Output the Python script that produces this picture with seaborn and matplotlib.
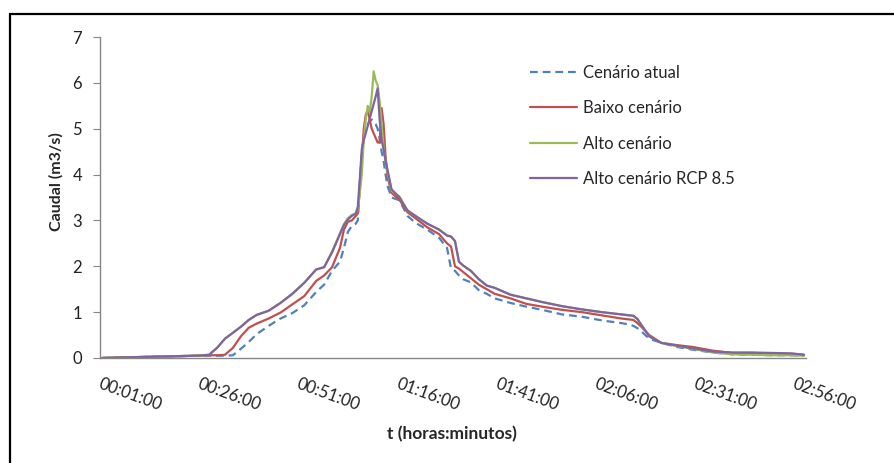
import matplotlib
matplotlib.use("Agg")
import matplotlib.pyplot as plt
from matplotlib.patches import Rectangle
import numpy as np
import pandas as pd
import seaborn as sns

# Time in minutes since 00:00 (finer steps around the flood peak)
minutes = [1, 5, 10, 15, 20, 25, 28, 30, 32, 34, 36, 38, 40, 43, 46, 49, 52, 55, 57, 59,
           61, 62, 63, 64, 65, 65.5, 66, 66.5, 67, 67.5, 68, 68.5, 69, 69.5, 70, 70.5,
           71, 71.5, 72, 72.5, 73, 74, 76, 78, 80, 83, 86, 88, 89, 90, 91, 92, 94, 96,
           98, 100, 104, 108, 112, 117, 122, 127, 132, 134, 135, 136, 137, 139, 142,
           146, 150, 155, 160, 165, 170, 175, 178]

# Discharge (m3/s) per scenario
q_atual = [0.0, 0.01, 0.02, 0.03, 0.04, 0.05, 0.05, 0.05, 0.05, 0.06, 0.2, 0.35, 0.52, 0.7,
           0.86, 0.98, 1.15, 1.44, 1.6, 1.9, 2.1, 2.4, 2.75, 2.88, 2.93, 3.0, 3.8, 4.5,
           4.8, 5.0, 5.1, 5.15, 5.2, 5.15, 5.1, 5.0, 4.8, 4.5, 4.3, 4.0, 3.75, 3.5, 3.44,
           3.1, 2.95, 2.8, 2.62, 2.4, 1.95, 1.9, 1.8, 1.72, 1.65, 1.48, 1.4, 1.3, 1.2,
           1.12, 1.05, 0.95, 0.9, 0.82, 0.76, 0.73, 0.7, 0.65, 0.58, 0.42, 0.33, 0.24,
           0.18, 0.12, 0.08, 0.07, 0.06, 0.06, 0.05]
q_baixo = [0.0, 0.01, 0.02, 0.03, 0.04, 0.05, 0.06, 0.06, 0.07, 0.22, 0.47, 0.66, 0.75, 0.86,
           0.99, 1.17, 1.35, 1.68, 1.8, 1.98, 2.4, 2.8, 2.97, 3.0, 3.1, 3.15, 3.7, 4.3,
           5.0, 5.3, 5.4, 5.2, 5.0, 4.9, 4.8, 4.7, 4.7, 5.45, 5.1, 4.4, 3.95, 3.6, 3.45,
           3.18, 3.05, 2.85, 2.7, 2.5, 2.43, 2.0, 1.95, 1.88, 1.74, 1.6, 1.5, 1.4, 1.3,
           1.18, 1.12, 1.05, 1.0, 0.93, 0.86, 0.84, 0.83, 0.76, 0.68, 0.5, 0.33, 0.28,
           0.24, 0.16, 0.11, 0.11, 0.1, 0.09, 0.07]
q_alto = [0.0, 0.01, 0.02, 0.03, 0.04, 0.05, 0.07, 0.22, 0.42, 0.55, 0.68, 0.83, 0.94, 1.03,
          1.2, 1.4, 1.64, 1.93, 1.98, 2.32, 2.72, 2.92, 3.05, 3.12, 3.15, 3.25, 3.6, 4.0,
          4.75, 5.2, 5.5, 5.35, 5.7, 6.25, 6.05, 5.95, 5.6, 5.1, 4.6, 4.3, 4.05, 3.65,
          3.52, 3.22, 3.1, 2.93, 2.8, 2.67, 2.65, 2.55, 2.1, 2.02, 1.9, 1.72, 1.58, 1.53,
          1.38, 1.3, 1.22, 1.13, 1.06, 1.0, 0.95, 0.93, 0.92, 0.85, 0.72, 0.47, 0.33,
          0.26, 0.2, 0.12, 0.08, 0.07, 0.06, 0.06, 0.05]
q_rcp85 = [0.0, 0.01, 0.02, 0.03, 0.04, 0.05, 0.07, 0.22, 0.42, 0.55, 0.68, 0.83, 0.94, 1.03,
           1.2, 1.4, 1.64, 1.93, 1.98, 2.3, 2.7, 2.9, 3.02, 3.1, 3.15, 3.3, 3.9, 4.55,
           4.75, 4.9, 5.06, 5.22, 5.38, 5.54, 5.7, 5.88, 5.2, 4.75, 4.55, 4.3, 4.1, 3.68,
           3.5, 3.22, 3.1, 2.93, 2.8, 2.67, 2.65, 2.55, 2.1, 2.02, 1.9, 1.72, 1.58, 1.53,
           1.38, 1.3, 1.22, 1.13, 1.06, 1.0, 0.95, 0.93, 0.92, 0.85, 0.72, 0.47, 0.33,
           0.27, 0.21, 0.14, 0.12, 0.12, 0.11, 0.1, 0.07]

scenarios = ["Cenário atual", "Baixo cenário", "Alto cenário", "Alto cenário RCP 8.5"]
colors = ["#4F81BD", "#C0504D", "#9BBB59", "#8064A2"]
tick_minutes = [1, 26, 51, 76, 101, 126, 151, 176]
tick_labels = ["00:01:00", "00:26:00", "00:51:00", "01:16:00",
               "01:41:00", "02:06:00", "02:31:00", "02:56:00"]

frames = []
for name, q in zip(scenarios, [q_atual, q_baixo, q_alto, q_rcp85]):
    frames.append(pd.DataFrame({"t": minutes, "Caudal": q, "Cenário": name}))
df = pd.concat(frames, ignore_index=True)

sns.set_style("white")
plt.rcParams["font.family"] = ["Lato", "DejaVu Sans"]

fig = plt.figure(figsize=(8.94, 4.63), dpi=100)
ax = fig.add_axes([100 / 894, 1 - 358 / 463, 706 / 894, 321 / 463])

sns.lineplot(data=df, x="t", y="Caudal", hue="Cenário", style="Cenário",
             hue_order=scenarios, style_order=scenarios,
             palette=dict(zip(scenarios, colors)),
             dashes={scenarios[0]: (3.5, 2.2), scenarios[1]: "", scenarios[2]: "",
                     scenarios[3]: ""},
             linewidth=1.6, errorbar=None, ax=ax)

ax.set_xlim(0.5, 178.5)
ax.set_ylim(0, 7)
ax.set_yticks(range(0, 8))
ax.set_xticks(tick_minutes)
ax.set_xticklabels(tick_labels, rotation=-20, ha="left", va="top",
                   rotation_mode="anchor")

axis_grey = "#868686"
for side in ["top", "right"]:
    ax.spines[side].set_visible(False)
for side in ["left", "bottom"]:
    ax.spines[side].set_color(axis_grey)
    ax.spines[side].set_linewidth(1.0)

ax.tick_params(axis="y", length=5, width=0.8, color=axis_grey, pad=8,
               labelsize=12, labelcolor="#222222", left=True)
ax.tick_params(axis="x", length=0, pad=13, labelsize=12, labelcolor="#222222")

ax.set_ylabel("Caudal (m3/s)", fontsize=11.5, fontweight="bold")
ax.set_xlabel("t (horas:minutos)", fontsize=12.5, fontweight="bold")
ax.yaxis.set_label_coords(-0.051, 0.55)
ax.xaxis.set_label_coords(0.499, -0.212)

handles, labels = ax.get_legend_handles_labels()
ax.legend(handles, labels, loc="upper left", bbox_to_anchor=(0.609, 0.914),
          frameon=False, fontsize=12, handlelength=2.8, handletextpad=0.36,
          labelspacing=1.17, borderpad=0, borderaxespad=0)

# Outer chart frame
fig.patches.append(Rectangle((10 / 894, -0.1), 1.2, 1 - 14 / 463 + 0.1,
                             transform=fig.transFigure, fill=False,
                             edgecolor="black", linewidth=1.6))

fig.savefig("out.png", dpi=100)
